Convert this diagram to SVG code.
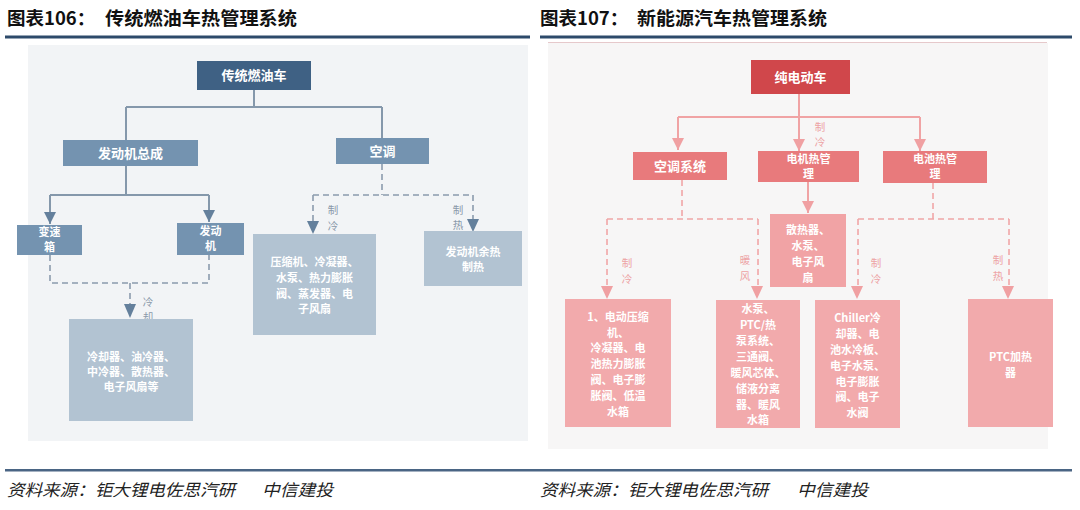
<svg xmlns="http://www.w3.org/2000/svg" width="1080" height="510" viewBox="0 0 1080 510">
<defs>
<style>
.title{font-family:"Noto Sans CJK SC","Liberation Sans",sans-serif;font-weight:700;font-size:18.5px;fill:#111}
.foot{font-family:"Noto Sans CJK SC","Liberation Sans",sans-serif;font-style:italic;font-size:16.5px;fill:#222}
.nt{font-family:"Noto Sans CJK SC","Liberation Serif",serif;font-weight:700;font-size:13px;fill:#fff;text-anchor:middle}
.nt2{font-family:"Noto Sans CJK SC","Liberation Serif",serif;font-weight:700;font-size:11px;fill:#fff;text-anchor:middle}
.bt{font-family:"Noto Sans CJK SC","Liberation Serif",serif;font-weight:700;font-size:11px;fill:#fff;text-anchor:middle}
.lbL{font-family:"Noto Sans CJK SC","Liberation Serif",serif;font-size:10.5px;fill:#8a99aa;text-anchor:middle}
.lbR{font-family:"Noto Sans CJK SC","Liberation Serif",serif;font-size:10.5px;fill:#eda3a5;text-anchor:middle}
.solL{stroke:#8598ab;stroke-width:2;fill:none}
.dashL{stroke:#8b9bad;stroke-width:1.6;fill:none;stroke-dasharray:6 4}
.solR{stroke:#f0a3a4;stroke-width:2;fill:none}
.dashR{stroke:#f0a6a7;stroke-width:1.6;fill:none;stroke-dasharray:6 4}
</style>
<marker id="aL2" markerWidth="14" markerHeight="12" refX="12" refY="6" orient="auto" markerUnits="userSpaceOnUse"><path d="M0,0 L12,6 L0,12 Z" fill="#64809c"/></marker>
<marker id="aR2" markerWidth="14" markerHeight="12" refX="12" refY="6" orient="auto" markerUnits="userSpaceOnUse"><path d="M0,0 L12,6 L0,12 Z" fill="#f0a0a2"/></marker>
</defs>

<rect x="0" y="0" width="1080" height="510" fill="#ffffff"/>

<!-- headers -->
<text class="title" x="7" y="25">图表106：</text>
<text class="title" x="105" y="25" textLength="192" lengthAdjust="spacingAndGlyphs">传统燃油车热管理系统</text>
<text class="title" x="540" y="25">图表107：</text>
<text class="title" x="637" y="25" textLength="190" lengthAdjust="spacingAndGlyphs">新能源汽车热管理系统</text>
<rect x="5" y="35.5" width="525" height="3" fill="#2d4a6a"/>
<rect x="540" y="35.5" width="532" height="3" fill="#2d4a6a"/>

<!-- panels -->
<rect x="28" y="45" width="500" height="396" fill="#f2f4f6"/>
<rect x="548" y="43" width="500" height="406" fill="#f7f6f6"/>
<line x1="548" y1="42.5" x2="1047" y2="42.5" stroke="#e6c9cb" stroke-width="1"/>

<!-- connectors -->
<g id="connectors">
  <!-- left solid -->
  <path class="solL" d="M254,90 V107 M126,107 H382 M126,107 V140 M382,107 V138"/>
  <path class="solL" d="M126,166 V195 M50,195 H209"/>
  <path class="solL" d="M50,195 V224" marker-end="url(#aL2)"/>
  <path class="solL" d="M209,195 V222" marker-end="url(#aL2)"/>
  <!-- left dashed -->
  <path class="dashL" d="M50,255 V283 H209 V255 M130,283 V306"/>
  <path class="dashL" d="M382,164 V195 M313,195 H473 M313,195 V222 M473,195 V220"/>
  <path d="M124,304 L136,304 L130,318 Z" fill="#64809c"/>
  <path d="M307,221 L319,221 L313,234 Z" fill="#64809c"/>
  <path d="M467,219 L479,219 L473,232 Z" fill="#64809c"/>
  <text class="lbL" x="148" y="306">冷</text><text class="lbL" x="148" y="321">却</text>
  <text class="lbL" x="333" y="214">制</text><text class="lbL" x="333" y="230">冷</text>
  <text class="lbL" x="458" y="214">制</text><text class="lbL" x="458" y="229">热</text>

  <!-- right solid -->
  <path class="solR" d="M799,94 V117 M678,117 H920"/>
  <path class="solR" d="M678,117 V150" marker-end="url(#aR2)"/>
  <path class="solR" d="M799,117 V151" marker-end="url(#aR2)"/>
  <path class="solR" d="M920,117 V151" marker-end="url(#aR2)"/>
  <path class="solR" d="M808,182 V213" marker-end="url(#aR2)"/>
  <text class="lbR" x="820" y="131">制</text><text class="lbR" x="820" y="146">冷</text>
  <!-- right dashed -->
  <path class="dashR" d="M682,180 V219 M607,219 H758 M607,219 V288 M758,219 V288"/>
  <path class="dashR" d="M933,183 V219 M858,219 H1009 M858,219 V288 M1009,219 V288"/>
  <path d="M601,286 L613,286 L607,299 Z" fill="#f0a0a2"/>
  <path d="M751,286 L763,286 L757,299 Z" fill="#f0a0a2"/>
  <path d="M851,286 L863,286 L857,299 Z" fill="#f0a0a2"/>
  <path d="M1002,286 L1014,286 L1008,299 Z" fill="#f0a0a2"/>
  <text class="lbR" x="627" y="267">制</text><text class="lbR" x="627" y="283">冷</text>
  <text class="lbR" x="745" y="264">暖</text><text class="lbR" x="745" y="280">风</text>
  <text class="lbR" x="876" y="267">制</text><text class="lbR" x="876" y="283">冷</text>
  <text class="lbR" x="998" y="264">制</text><text class="lbR" x="998" y="280">热</text>
</g>

<!-- left nodes -->
<g id="n-ice">
  <rect x="197" y="61" width="114" height="29" fill="#3f6184"/>
  <text class="nt" x="254" y="80">传统燃油车</text>
</g>
<g id="n-engine-asm">
  <rect x="63" y="140" width="135" height="26" fill="#7493b0"/>
  <text class="nt" x="130.5" y="158">发动机总成</text>
</g>
<g id="n-ac">
  <rect x="336" y="138" width="93" height="26" fill="#7493b0"/>
  <text class="nt" x="382.5" y="156">空调</text>
</g>
<g id="n-gearbox">
  <rect x="17" y="225" width="65" height="30" fill="#7493b0"/>
  <text class="nt2" x="49.5" y="236">变速</text>
  <text class="nt2" x="49.5" y="251">箱</text>
</g>
<g id="n-engine">
  <rect x="177" y="223" width="67" height="32" fill="#7493b0"/>
  <text class="nt2" x="210.5" y="235">发动</text>
  <text class="nt2" x="210.5" y="250">机</text>
</g>
<g id="n-cooling">
  <rect x="69" y="319" width="124" height="102" fill="#b2c3d2"/>
  <text class="bt" x="131" y="361">冷却器、油冷器、</text>
  <text class="bt" x="131" y="376">中冷器、散热器、</text>
  <text class="bt" x="131" y="391">电子风扇等</text>
</g>
<g id="n-compressor">
  <rect x="253" y="234" width="123" height="101" fill="#b2c3d2"/>
  <text class="bt" x="314.5" y="266">压缩机、冷凝器、</text>
  <text class="bt" x="314.5" y="282">水泵、热力膨胀</text>
  <text class="bt" x="314.5" y="298">阀、蒸发器、电</text>
  <text class="bt" x="314.5" y="313">子风扇</text>
</g>
<g id="n-wasteheat">
  <rect x="424" y="231" width="98" height="55" fill="#b2c3d2"/>
  <text class="bt" x="473" y="256">发动机余热</text>
  <text class="bt" x="473" y="271">制热</text>
</g>

<!-- right nodes -->
<g id="n-ev">
  <rect x="751" y="60" width="99" height="34" fill="#d0474b"/>
  <text class="nt" x="800.5" y="82" font-size="14">纯电动车</text>
</g>
<g id="n-acsys">
  <rect x="633" y="152" width="94" height="28" fill="#e87a7c"/>
  <text class="nt" x="680" y="171">空调系统</text>
</g>
<g id="n-motor">
  <rect x="758" y="151" width="101" height="31" fill="#e87a7c"/>
  <text class="nt2" x="808.5" y="163">电机热管</text>
  <text class="nt2" x="808.5" y="178">理</text>
</g>
<g id="n-battery">
  <rect x="883" y="151" width="104" height="32" fill="#e87a7c"/>
  <text class="nt2" x="935" y="163">电池热管</text>
  <text class="nt2" x="935" y="178">理</text>
</g>
<g id="n-radiator">
  <rect x="770" y="214" width="76" height="73" fill="#f1a3a5"/>
  <text class="bt" x="808" y="234">散热器、</text>
  <text class="bt" x="808" y="250">水泵、</text>
  <text class="bt" x="808" y="266">电子风</text>
  <text class="bt" x="808" y="282">扇</text>
</g>
<g id="n-box1">
  <rect x="565" y="299" width="106" height="128" fill="#f2aaac"/>
  <text class="bt" x="618" y="321">1、电动压缩</text>
  <text class="bt" x="618" y="337">机、</text>
  <text class="bt" x="618" y="352">冷凝器、电</text>
  <text class="bt" x="618" y="368">池热力膨胀</text>
  <text class="bt" x="618" y="384">阀、电子膨</text>
  <text class="bt" x="618" y="400">胀阀、低温</text>
  <text class="bt" x="618" y="416">水箱</text>
</g>
<g id="n-box2">
  <rect x="716" y="300" width="84" height="128" fill="#f2aaac"/>
  <text class="bt" x="758" y="313">水泵、</text>
  <text class="bt" x="758" y="329">PTC/热</text>
  <text class="bt" x="758" y="345">泵系统、</text>
  <text class="bt" x="758" y="361">三通阀、</text>
  <text class="bt" x="758" y="377">暖风芯体、</text>
  <text class="bt" x="758" y="393">储液分离</text>
  <text class="bt" x="758" y="409">器、暖风</text>
  <text class="bt" x="758" y="424">水箱</text>
</g>
<g id="n-box3">
  <rect x="815" y="300" width="85" height="128" fill="#f2aaac"/>
  <text class="bt" x="857.5" y="322">Chiller冷</text>
  <text class="bt" x="857.5" y="338">却器、电</text>
  <text class="bt" x="857.5" y="354">池水冷板、</text>
  <text class="bt" x="857.5" y="370">电子水泵、</text>
  <text class="bt" x="857.5" y="386">电子膨胀</text>
  <text class="bt" x="857.5" y="401">阀、电子</text>
  <text class="bt" x="857.5" y="417">水阀</text>
</g>
<g id="n-box4">
  <rect x="968" y="299" width="85" height="128" fill="#f2aaac"/>
  <text class="bt" x="1010.5" y="361">PTC加热</text>
  <text class="bt" x="1010.5" y="377">器</text>
</g>

<!-- footer -->
<rect x="5" y="469" width="1067" height="2.5" fill="#4a6584"/>
<text class="foot" x="7" y="496" textLength="228" lengthAdjust="spacingAndGlyphs">资料来源：钜大锂电佐思汽研</text>
<text class="foot" x="262" y="496" textLength="71" lengthAdjust="spacingAndGlyphs">中信建投</text>
<text class="foot" x="540" y="496" textLength="228" lengthAdjust="spacingAndGlyphs">资料来源：钜大锂电佐思汽研</text>
<text class="foot" x="797" y="496" textLength="71" lengthAdjust="spacingAndGlyphs">中信建投</text>
</svg>
